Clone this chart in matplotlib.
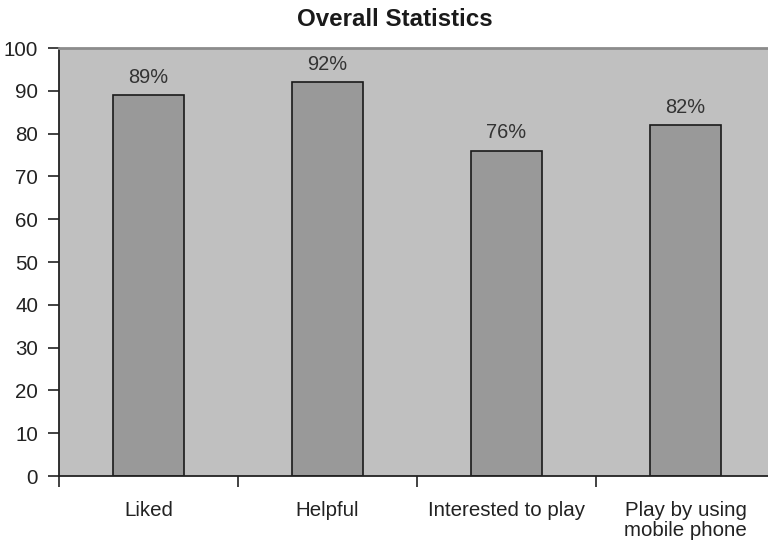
import numpy as np
import matplotlib.pyplot as plt

plt.rcParams['font.family'] = ['Liberation Sans', 'DejaVu Sans']

categories = ['Liked', 'Helpful', 'Interested to play', 'Play by using\nmobile phone']
percent = [89, 92, 76, 82]
y_ticks = list(range(0, 101, 10))

fig = plt.figure(figsize=(7.68, 5.44), dpi=100)
ax = fig.add_axes([59 / 768, 68 / 544, 716 / 768, 428 / 544])
ax.set_facecolor('#c0c0c0')

x = np.arange(len(categories))
ax.bar(x, percent, width=0.4, color='#999999', edgecolor='#1a1a1a', linewidth=1.2, zorder=2)

for xi, v in zip(x, percent):
    ax.text(xi, v + 4.2, f'{v}%', ha='center', va='center', fontsize=14.4, color='#333333')

ax.set_xlim(-0.5, len(categories) - 0.5)
ax.set_ylim(0, 100)
ax.set_yticks(y_ticks)

# category boundaries carry the tick marks, names sit between them
ax.set_xticks(np.arange(-0.5, len(categories), 1.0))
ax.set_xticklabels([])
ax.set_xticks(x, minor=True)
ax.set_xticklabels(categories, minor=True, fontsize=14.8, color='#222222', linespacing=1.1)
ax.tick_params(axis='x', which='minor', length=0, pad=18)
ax.tick_params(axis='x', which='major', length=8, width=1.2, color='#222222', direction='out')
ax.tick_params(axis='y', length=8, width=1.2, color='#222222', direction='out', pad=7,
               labelsize=14.8, labelcolor='#222222')

for side in ['left', 'bottom']:
    ax.spines[side].set_color('#222222')
    ax.spines[side].set_linewidth(1.3)
ax.spines['top'].set_color('#8c8c8c')
ax.spines['top'].set_linewidth(2)
ax.spines['right'].set_visible(False)

fig.text(395 / 768, 1 - 19 / 544, 'Overall Statistics', ha='center', va='center',
         fontsize=17.4, fontweight='bold', color='#1a1a1a')

fig.savefig('out.png', dpi=100)
